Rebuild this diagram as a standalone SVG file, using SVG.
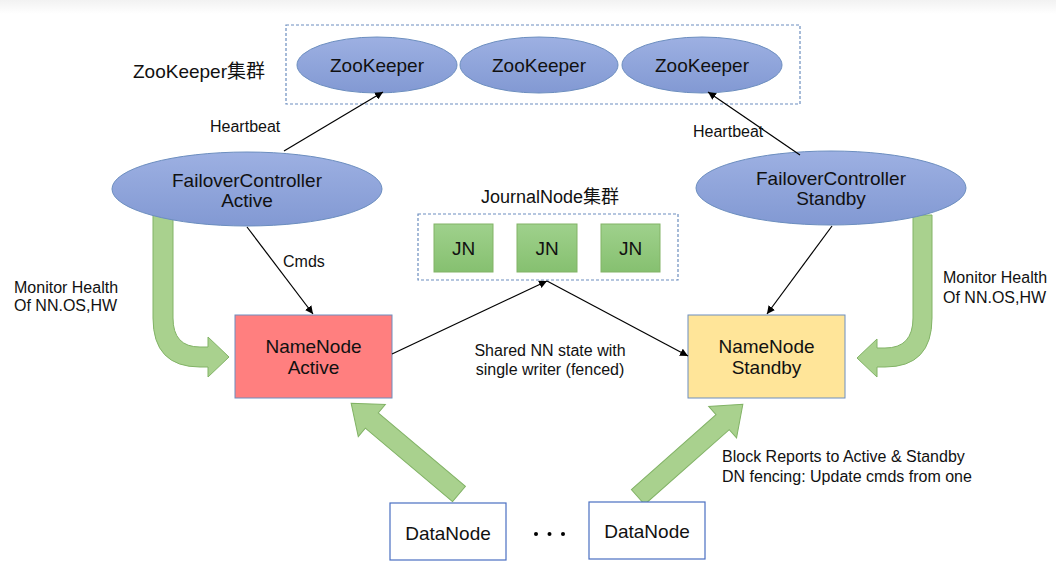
<svg xmlns="http://www.w3.org/2000/svg" width="1056" height="571" viewBox="0 0 1056 571">
<defs>
<linearGradient id="topfade" x1="0" y1="0" x2="0" y2="1"><stop offset="0" stop-color="#f2f2f2"/><stop offset="1" stop-color="#ffffff"/></linearGradient>
<linearGradient id="ell" x1="0" y1="0" x2="0" y2="1"><stop offset="0" stop-color="#9db0e2"/><stop offset="1" stop-color="#8299d3"/></linearGradient>
<linearGradient id="jn" x1="0" y1="0" x2="0" y2="1"><stop offset="0" stop-color="#9fd18c"/><stop offset="1" stop-color="#86c070"/></linearGradient>
<marker id="ah" viewBox="0 0 10 10" refX="10" refY="5" markerWidth="8" markerHeight="8" markerUnits="userSpaceOnUse" orient="auto"><path d="M0,0 L10,5 L0,10 Z" fill="#000"/></marker>
</defs>
<style>
text{font-family:"Liberation Sans",Arial,"Noto Sans CJK SC",sans-serif;fill:#111;}
.big{font-size:19px;text-anchor:middle;}
.lbl{font-size:16px;}
.ell{fill:url(#ell);stroke:#6c8ebf;stroke-width:1;}
.dash{fill:none;stroke:#6c8ebf;stroke-width:1.2;stroke-dasharray:3,2;}
.jnr{fill:url(#jn);stroke:#82b366;stroke-width:1;}
.garrow{fill:#a9d18e;stroke:#82b366;stroke-width:1;}
.conn{fill:none;stroke:#000;stroke-width:1.2;marker-end:url(#ah);}
.dn{fill:#fff;stroke:#4a6fc1;stroke-width:1.2;}
</style>
<rect x="0" y="0" width="1056" height="571" fill="#fff"/>
<rect x="0" y="0" width="1056" height="14" fill="url(#topfade)"/>

<g id="green-arrows">
<path class="garrow" d="M153,215 L153,318 Q153,367 200,367 L208,367 L208,377 L229,357 L208,337 L208,347 L200,347 Q173,347 173,318 L173,215 Z"/>
<path class="garrow" d="M932,215 L932,318 Q932,367 885,367 L877,367 L877,377 L857,358 L877,339 L877,348 L885,348 Q913,348 913,318 L913,215 Z"/>
<path class="garrow" transform="translate(459,494) rotate(-139.9)" d="M0,-10 L114,-10 L114,-21 L141,0 L114,21 L114,10 L0,10 Z"/>
<path class="garrow" transform="translate(638,497) rotate(-41.5)" d="M0,-10 L113,-10 L113,-21 L140,0 L113,21 L113,10 L0,10 Z"/>
</g>

<g id="zk-cluster">
<rect class="dash" x="286" y="25" width="514" height="79"/>
<text x="133" y="78" style="font-size:19px">ZooKeeper集群</text>
</g>
<g id="zk1"><ellipse class="ell" cx="377" cy="65" rx="80" ry="28"/><text class="big" x="377" y="72">ZooKeeper</text></g>
<g id="zk2"><ellipse class="ell" cx="539" cy="65" rx="79" ry="28"/><text class="big" x="539" y="72">ZooKeeper</text></g>
<g id="zk3"><ellipse class="ell" cx="702" cy="65" rx="80" ry="28"/><text class="big" x="702" y="72">ZooKeeper</text></g>

<g id="fc-active"><ellipse class="ell" cx="247" cy="189" rx="135" ry="37"/><text class="big" x="247" y="187">FailoverController</text><text class="big" x="247" y="207">Active</text></g>
<g id="fc-standby"><ellipse class="ell" cx="831" cy="188" rx="135" ry="37"/><text class="big" x="831" y="185">FailoverController</text><text class="big" x="831" y="205">Standby</text></g>

<g id="jn-cluster">
<text x="550" y="203" text-anchor="middle" style="font-size:18px">JournalNode集群</text>
<rect class="dash" x="418" y="214" width="260" height="66"/>
</g>
<g id="jn1"><rect class="jnr" x="434" y="224" width="59" height="48"/><text class="big" x="463.5" y="255">JN</text></g>
<g id="jn2"><rect class="jnr" x="517" y="224" width="60" height="48"/><text class="big" x="547" y="255">JN</text></g>
<g id="jn3"><rect class="jnr" x="601" y="224" width="59" height="48"/><text class="big" x="630.5" y="255">JN</text></g>

<g id="nn-active"><rect x="235" y="315" width="157" height="83" fill="#ff7f7f" stroke="#6c8ebf" stroke-width="1"/><text class="big" x="313.5" y="353">NameNode</text><text class="big" x="313.5" y="374">Active</text></g>
<g id="nn-standby"><rect x="688" y="315" width="157" height="83" fill="#ffe599" stroke="#6c8ebf" stroke-width="1"/><text class="big" x="766.5" y="353">NameNode</text><text class="big" x="766.5" y="374">Standby</text></g>

<g id="dn1"><rect class="dn" x="390" y="503" width="116" height="57"/><text class="big" x="448" y="540">DataNode</text></g>
<g id="dn2"><rect class="dn" x="589" y="502" width="116" height="57"/><text class="big" x="647" y="538">DataNode</text></g>
<g id="dots" fill="#000"><circle cx="536" cy="534" r="2"/><circle cx="549.5" cy="534" r="2"/><circle cx="563" cy="534" r="2"/></g>

<g id="connectors">
<line class="conn" x1="284" y1="151" x2="383" y2="92"/>
<line class="conn" x1="800" y1="155" x2="708" y2="92"/>
<line class="conn" x1="247" y1="227" x2="313" y2="314"/>
<line class="conn" x1="832" y1="226" x2="767" y2="314"/>
<line class="conn" x1="392" y1="354" x2="547" y2="281"/>
<line class="conn" x1="547" y1="281" x2="688" y2="356"/>
</g>

<g id="labels">
<text class="lbl" x="210" y="132">Heartbeat</text>
<text class="lbl" x="693" y="137">Heartbeat</text>
<text class="lbl" x="283" y="267">Cmds</text>
<text class="lbl" x="14" y="293">Monitor Health</text>
<text class="lbl" x="14" y="311">Of NN.OS,HW</text>
<text class="lbl" x="943" y="283">Monitor Health</text>
<text class="lbl" x="943" y="303">Of NN.OS,HW</text>
<text class="lbl" x="550" y="356" text-anchor="middle">Shared NN state with</text>
<text class="lbl" x="550" y="375" text-anchor="middle">single writer (fenced)</text>
<text class="lbl" x="722" y="462">Block Reports to Active &amp; Standby</text>
<text class="lbl" x="722" y="482">DN fencing: Update cmds from one</text>
</g>
</svg>
